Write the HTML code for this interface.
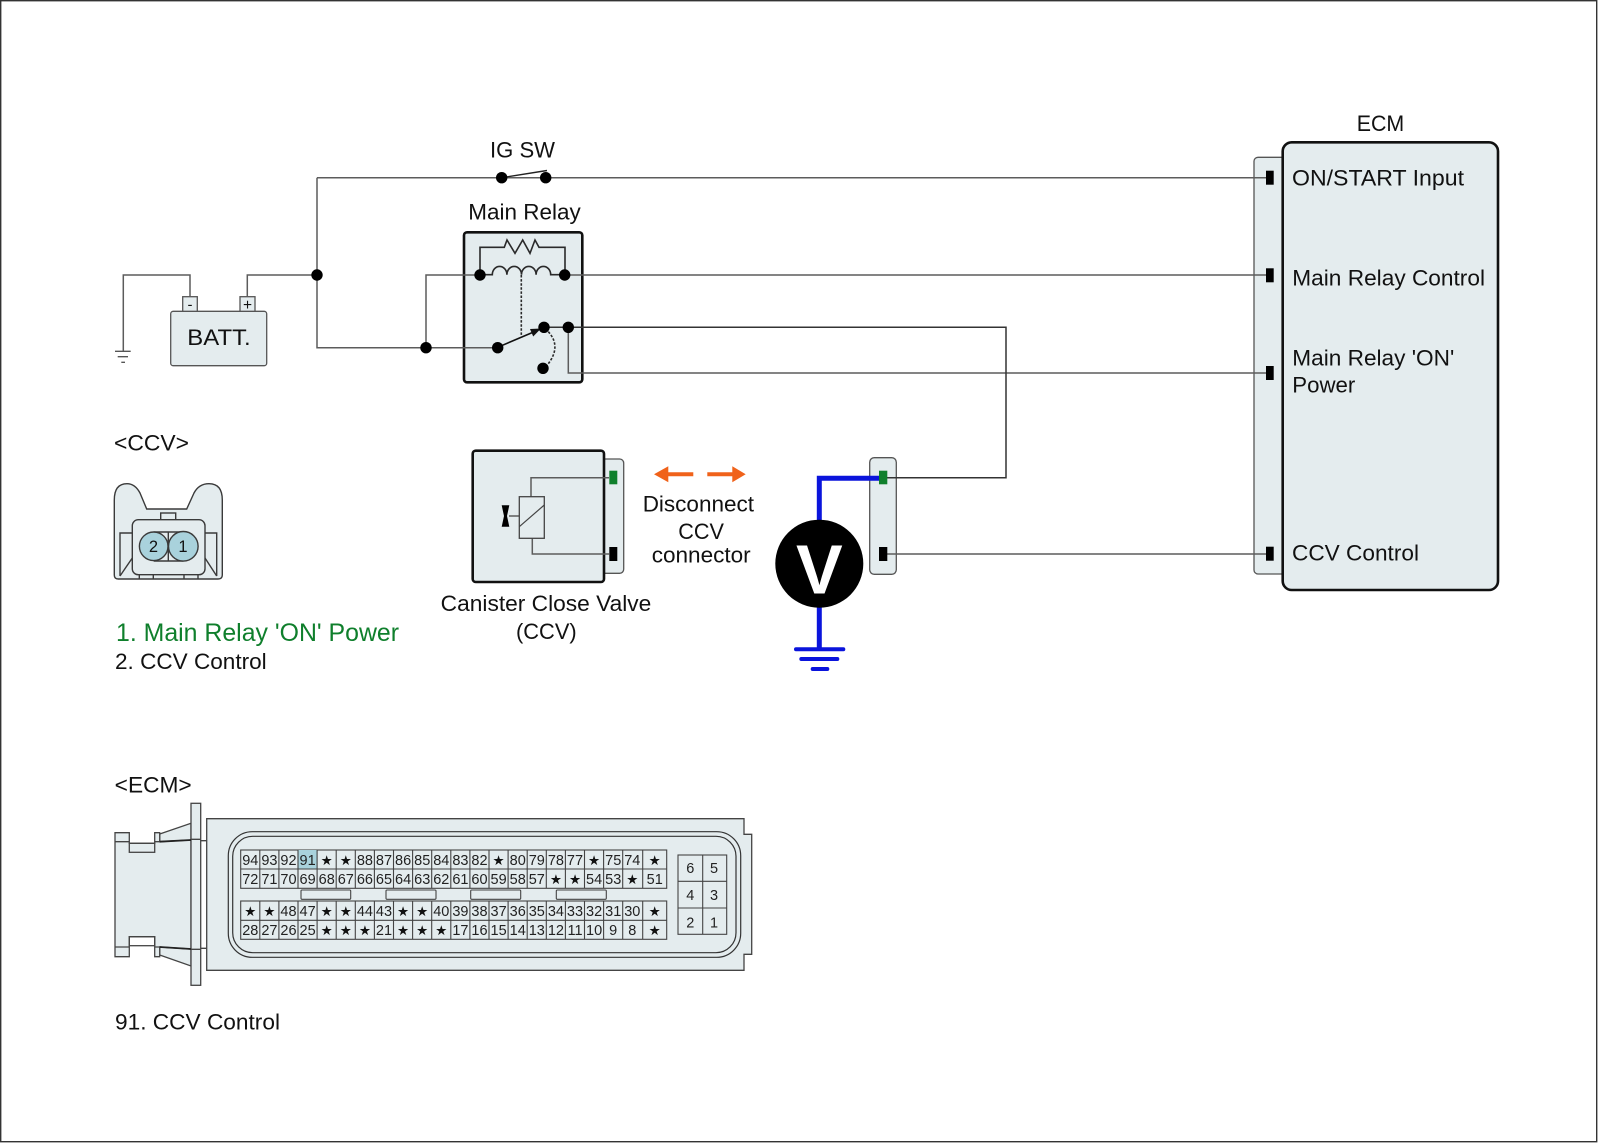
<!DOCTYPE html>
<html><head><meta charset="utf-8"><title>CCV circuit diagram</title>
<style>
html,body{margin:0;padding:0;background:#fff;width:1600px;height:1143px;overflow:hidden}
svg{display:block}
text{font-family:"Liberation Sans",sans-serif;fill:#111}
.l{font-size:22.5px}
.n{font-size:14.5px;text-anchor:middle;fill:#222}
.s{font-family:"DejaVu Sans",sans-serif;font-size:13.5px;text-anchor:middle;fill:#111}
</style></head><body>
<svg width="1600" height="1143" viewBox="0 0 1600 1143" xmlns="http://www.w3.org/2000/svg">
<rect x="0.7" y="0.7" width="1596" height="1141" fill="#fff" stroke="#333" stroke-width="1.4"/>

<!-- Connector & box fills -->
<g fill="#e4ecee" stroke="#555" stroke-width="1.3">
<rect x="170.7" y="311.3" width="96" height="54.4" rx="2.5"/>
<rect x="182.7" y="296.7" width="14.6" height="14.6"/>
<rect x="240" y="296.7" width="15" height="14.6"/>
<rect x="1254" y="157.3" width="40" height="416.7" rx="4"/>
<rect x="590" y="459" width="33.7" height="114.3" rx="4"/>
<rect x="869.7" y="457.7" width="26.6" height="116.6" rx="4.5"/>
</g>
<g fill="#e4ecee" stroke="#111" stroke-width="2.6">
<rect x="464" y="232.3" width="118.3" height="150" rx="3"/>
<rect x="1282.7" y="142.3" width="215.3" height="447.7" rx="9"/>
<rect x="472.7" y="450.7" width="131.3" height="131.3" rx="3"/>
</g>

<!-- Wires -->
<g fill="none" stroke="#5c5c5c" stroke-width="1.5">
<path d="M317 177.7H1266M317 177.7V347.7H497.7"/>
<path d="M247.3 296.7V275H317"/>
<path d="M190 296.7V275H123.3V351"/>
<path d="M426 347.7V275H480M564.7 275H1266"/>
<path d="M568.3 327.3V373H1266"/>
<path d="M887 554H1266"/>
<path d="M887 477.7H1006V327.3H544" stroke="#333"/>
<path d="M609 477.7H531V496.7M532.3 538.3V554H609"/>
<path d="M519.3 516H509"/>
</g>
<g stroke="#555" stroke-width="1.4" fill="none"><path d="M115 351.3H130.7M117.7 356.7H128M121.3 362.3H125"/></g>

<!-- Battery labels -->
<text x="190" y="309.5" style="font-size:15px;text-anchor:middle">-</text>
<text x="247.5" y="310" style="font-size:15.5px;text-anchor:middle">+</text>
<text x="187.3" y="345" style="font-size:22.5px" textLength="63.4" lengthAdjust="spacingAndGlyphs">BATT.</text>

<!-- IG switch -->
<path d="M501.7 177.7L547 170.5" stroke="#222" stroke-width="1.4" fill="none"/>

<!-- Relay internals -->
<g fill="none" stroke="#2a2a2a" stroke-width="1.6">
<path d="M480 275V247.3H504.3L507 240L515 253.3L522.7 240L530 253.3L535 240L539 247.3H565V275"/>
<path d="M480 274.7H492.3A7.3 8.3 0 0 1 506.9 274.7A7.3 8.3 0 0 1 521.5 274.7A7.3 8.3 0 0 1 536.1 274.7A7.3 8.3 0 0 1 550.7 274.7H565"/>
<path d="M521.3 275V336.7" stroke-dasharray="2.5 1.6"/>
<path d="M548.3 331.7Q562 346.7 547.3 365" stroke-dasharray="2.5 1.6"/>
<path d="M497.7 347.3L536 331" stroke="#111"/>
</g>
<path d="M541 328.5L530 329L533.2 336.5Z" fill="#111"/>

<!-- Dots -->
<g fill="#000">
<circle cx="501.7" cy="177.7" r="5.7"/><circle cx="545.7" cy="177.7" r="5.7"/>
<circle cx="317" cy="275" r="5.7"/><circle cx="426" cy="347.7" r="5.7"/>
<circle cx="480" cy="275" r="5.7"/><circle cx="564.7" cy="275" r="5.7"/>
<circle cx="497.7" cy="347.7" r="5.7"/><circle cx="544" cy="327.3" r="5.7"/>
<circle cx="568.3" cy="327.3" r="5.7"/><circle cx="543" cy="368.3" r="5.7"/>
</g>

<!-- Pins -->
<g fill="#000">
<rect x="1266" y="170.7" width="7.7" height="14"/><rect x="1266" y="268.3" width="7.7" height="14"/>
<rect x="1266" y="366" width="7.7" height="14"/><rect x="1266" y="546.7" width="7.7" height="14"/>
<rect x="609.3" y="547" width="8" height="14"/><rect x="879" y="547" width="8.3" height="14"/>
</g>
<rect x="609.3" y="470.7" width="8" height="13.6" fill="#0f7f2c"/>

<!-- CCV valve -->
<rect x="519.3" y="496.7" width="25" height="41.6" fill="#e4ecee" stroke="#444" stroke-width="1.3"/>
<path d="M519.3 526.7L544.3 505" stroke="#444" stroke-width="1.2"/>
<path d="M501.7 505.3H509.3L507 516L509.3 526.7H501.7L504 516Z" fill="#000"/>

<!-- Orange arrows -->
<g fill="#f0621a">
<path d="M654 474.3L668.3 466.3V472.3H693.3V476.3H668.3V482.3Z"/>
<path d="M745.7 474.3L732.3 466.3V472.3H707.3V476.3H732.3V482.3Z"/>
</g>

<!-- Voltmeter -->
<g fill="none" stroke="#0a14dc" stroke-width="5">
<path d="M880 478.3H819.3V649.3"/>
<path d="M796 649.3H843.3" stroke-linecap="round" stroke-width="4"/>
<path d="M801.3 659H837.3" stroke-linecap="round" stroke-width="4"/>
<path d="M812.7 669H827.3" stroke-linecap="round" stroke-width="4"/>
</g>
<rect x="879" y="470.7" width="8.3" height="13.6" fill="#0f7f2c"/>
<circle cx="819.3" cy="563.7" r="44" fill="#000"/>
<text x="819.3" y="593.3" style="font-size:70px;font-weight:bold;fill:#fff;text-anchor:middle">V</text>

<!-- Labels -->
<text class="l" x="490" y="157.5" textLength="65" lengthAdjust="spacingAndGlyphs">IG SW</text>
<text class="l" x="468.3" y="219.3" textLength="112.4" lengthAdjust="spacingAndGlyphs">Main Relay</text>
<text class="l" x="1356.7" y="131" textLength="47.5" lengthAdjust="spacingAndGlyphs">ECM</text>
<text class="l" x="1292" y="185.7" textLength="172" lengthAdjust="spacingAndGlyphs">ON/START Input</text>
<text class="l" x="1292.3" y="285.3" textLength="192.7" lengthAdjust="spacingAndGlyphs">Main Relay Control</text>
<text class="l" x="1292.3" y="365.7" textLength="162" lengthAdjust="spacingAndGlyphs">Main Relay 'ON'</text>
<text class="l" x="1292.3" y="392.7" textLength="63" lengthAdjust="spacingAndGlyphs">Power</text>
<text class="l" x="1292" y="560.7" textLength="127" lengthAdjust="spacingAndGlyphs">CCV Control</text>
<text class="l" x="642.7" y="511.7" textLength="111.3" lengthAdjust="spacingAndGlyphs">Disconnect</text>
<text class="l" x="678.3" y="539" textLength="45.7" lengthAdjust="spacingAndGlyphs">CCV</text>
<text class="l" x="651.7" y="562.3" textLength="99" lengthAdjust="spacingAndGlyphs">connector</text>
<text class="l" x="440.7" y="611" textLength="210.6" lengthAdjust="spacingAndGlyphs">Canister Close Valve</text>
<text class="l" x="516" y="639" textLength="60.7" lengthAdjust="spacingAndGlyphs">(CCV)</text>
<text class="l" x="114" y="450.7" textLength="75" lengthAdjust="spacingAndGlyphs">&lt;CCV&gt;</text>
<text class="l" x="114.7" y="792.3" textLength="77" lengthAdjust="spacingAndGlyphs">&lt;ECM&gt;</text>
<text x="116" y="641" style="font-size:24.8px;fill:#0f7f2c" textLength="283" lengthAdjust="spacingAndGlyphs">1. Main Relay 'ON' Power</text>
<text class="l" x="115" y="669" textLength="151.7" lengthAdjust="spacingAndGlyphs">2. CCV Control</text>
<text class="l" x="115" y="1029.3" textLength="165" lengthAdjust="spacingAndGlyphs">91. CCV Control</text>

<!-- CCV connector -->
<g stroke="#3a3a3a" stroke-width="1.4">
<path d="M114.3 575V500Q114.3 483.7 127 483.7Q135 483.7 140 493L146.7 509H186.7L194 493Q199 483.7 209 483.7Q222.3 483.7 222.3 500V575Q222.3 579 218 579H118.3Q114.3 579 114.3 575Z" fill="#e4ecee"/>
<path d="M120 576V533H132.3M205 533H216.7V576M120 576L132.3 558M216.7 576L205 558" fill="none"/>
<rect x="160.7" y="513" width="15" height="6.7" fill="#e4ecee"/>
<rect x="132.3" y="519.7" width="72.7" height="55" rx="6" fill="#e4ecee"/>
<path d="M139.3 574.7V579M153.3 574.7V579M184 574.7V579M198 574.7V579" fill="none"/>
<path d="M153.7 532H183.3M153.7 561H183.3" fill="none"/>
<circle cx="153.7" cy="546.3" r="14.3" fill="#a9d2dc"/>
<circle cx="183.3" cy="546.3" r="14.8" fill="#a9d2dc"/>
<path d="M168.3 531.7V561" fill="none"/>
</g>
<text x="153.5" y="552" style="font-size:16.5px;text-anchor:middle">2</text>
<text x="183" y="552" style="font-size:16.5px;text-anchor:middle">1</text>

<!-- ECM connector body -->
<g stroke="#444" stroke-width="1.3" fill="#e4ecee">
<path d="M206.7 818.7H744V834.3H751.7V954.3H744V970.3H206.7Z"/>
<path d="M159.7 834L191 823.3V840L159.7 841.7ZM159.7 955L191 966V949L159.7 947Z"/>
<path d="M115 832.7H129.3V843.3H154.7V832.7H159.7V841.7L191 840V949L159.7 947V956.7H154.7V945.7V936.7H129.3V947V956.7H115Z"/>
<rect x="129.3" y="843.3" width="25.4" height="9" fill="none"/>
<rect x="129.3" y="936.7" width="25.4" height="9" fill="none"/>
<rect x="191" y="803.3" width="9.7" height="182"/>
<path d="M115 841.7H129.3M154.7 841.7H159.7M115 947H129.3M154.7 947H159.7M191 839.3H200.7M191 949.3H200.7M200.7 840.7H206.7M200.7 948.3H206.7" fill="none"/>
<path d="M159.7 841.7L191 840M159.7 947L191 949" fill="none" stroke="#222" stroke-width="1.8"/>
</g>
<g fill="none" stroke="#333" stroke-width="1.2">
<rect x="228.3" y="831.7" width="512.4" height="125.6" rx="24"/>
<rect x="232.7" y="836.3" width="503.3" height="116.4" rx="20"/>
</g>

<!-- ECM grids -->
<rect x="240.7" y="850" width="426" height="38.3" fill="#e4ecee" stroke="#444" stroke-width="1.1"/>
<rect x="240.7" y="901" width="426" height="38.3" fill="#e4ecee" stroke="#444" stroke-width="1.1"/>
<rect x="298" y="850" width="19.1" height="19" fill="#a9d2dc"/>
<path fill="none" stroke="#444" stroke-width="1.1" d="M240.7 869H666.7M240.7 920.3H666.7M259.8 850V888.3M278.9 850V888.3M298 850V888.3M317.1 850V888.3M336.2 850V888.3M355.3 850V888.3M374.4 850V888.3M393.5 850V888.3M412.6 850V888.3M431.7 850V888.3M450.8 850V888.3M469.9 850V888.3M489 850V888.3M508.1 850V888.3M527.2 850V888.3M546.3 850V888.3M565.4 850V888.3M584.5 850V888.3M603.6 850V888.3M622.7 850V888.3M642.7 850V888.3M259.8 901V939.3M278.9 901V939.3M298 901V939.3M317.1 901V939.3M336.2 901V939.3M355.3 901V939.3M374.4 901V939.3M393.5 901V939.3M412.6 901V939.3M431.7 901V939.3M450.8 901V939.3M469.9 901V939.3M489 901V939.3M508.1 901V939.3M527.2 901V939.3M546.3 901V939.3M565.4 901V939.3M584.5 901V939.3M603.6 901V939.3M622.7 901V939.3M642.7 901V939.3"/>
<g fill="#e4ecee" stroke="#444" stroke-width="1.1">
<rect x="301" y="890" width="49.7" height="9.3" rx="1"/>
<rect x="386" y="890" width="50" height="9.3" rx="1"/>
<rect x="470.7" y="890" width="50" height="9.3" rx="1"/>
<rect x="556.3" y="890" width="50" height="9.3" rx="1"/>
<rect x="678" y="855" width="48.7" height="79.3"/>
</g>
<path d="M702.7 855V934.3M678 881.3H726.7M678 908H726.7" fill="none" stroke="#444" stroke-width="1.1"/>

<!-- Row 1 -->
<text class="n" y="865"><tspan x="250.3">94</tspan><tspan x="269.4">93</tspan><tspan x="288.5">92</tspan><tspan x="307.6">91</tspan><tspan x="364.9">88</tspan><tspan x="384">87</tspan><tspan x="403.1">86</tspan><tspan x="422.2">85</tspan><tspan x="441.3">84</tspan><tspan x="460.4">83</tspan><tspan x="479.5">82</tspan><tspan x="517.7">80</tspan><tspan x="536.8">79</tspan><tspan x="555.9">78</tspan><tspan x="575">77</tspan><tspan x="613.2">75</tspan><tspan x="632.3">74</tspan></text>
<text class="s" y="865"><tspan x="326.7">★</tspan><tspan x="345.8">★</tspan><tspan x="498.6">★</tspan><tspan x="594.1">★</tspan><tspan x="654.7">★</tspan></text>
<!-- Row 2 -->
<text class="n" y="884"><tspan x="250.3">72</tspan><tspan x="269.4">71</tspan><tspan x="288.5">70</tspan><tspan x="307.6">69</tspan><tspan x="326.7">68</tspan><tspan x="345.8">67</tspan><tspan x="364.9">66</tspan><tspan x="384">65</tspan><tspan x="403.1">64</tspan><tspan x="422.2">63</tspan><tspan x="441.3">62</tspan><tspan x="460.4">61</tspan><tspan x="479.5">60</tspan><tspan x="498.6">59</tspan><tspan x="517.7">58</tspan><tspan x="536.8">57</tspan><tspan x="594.1">54</tspan><tspan x="613.2">53</tspan><tspan x="654.7">51</tspan></text>
<text class="s" y="884"><tspan x="555.9">★</tspan><tspan x="575">★</tspan><tspan x="632.3">★</tspan></text>
<!-- Row 3 -->
<text class="n" y="916"><tspan x="288.5">48</tspan><tspan x="307.6">47</tspan><tspan x="364.9">44</tspan><tspan x="384">43</tspan><tspan x="441.3">40</tspan><tspan x="460.4">39</tspan><tspan x="479.5">38</tspan><tspan x="498.6">37</tspan><tspan x="517.7">36</tspan><tspan x="536.8">35</tspan><tspan x="555.9">34</tspan><tspan x="575">33</tspan><tspan x="594.1">32</tspan><tspan x="613.2">31</tspan><tspan x="632.3">30</tspan></text>
<text class="s" y="916"><tspan x="250.3">★</tspan><tspan x="269.4">★</tspan><tspan x="326.7">★</tspan><tspan x="345.8">★</tspan><tspan x="403.1">★</tspan><tspan x="422.2">★</tspan><tspan x="654.7">★</tspan></text>
<!-- Row 4 -->
<text class="n" y="935"><tspan x="250.3">28</tspan><tspan x="269.4">27</tspan><tspan x="288.5">26</tspan><tspan x="307.6">25</tspan><tspan x="384">21</tspan><tspan x="460.4">17</tspan><tspan x="479.5">16</tspan><tspan x="498.6">15</tspan><tspan x="517.7">14</tspan><tspan x="536.8">13</tspan><tspan x="555.9">12</tspan><tspan x="575">11</tspan><tspan x="594.1">10</tspan><tspan x="613.2">9</tspan><tspan x="632.3">8</tspan></text>
<text class="s" y="935"><tspan x="326.7">★</tspan><tspan x="345.8">★</tspan><tspan x="364.9">★</tspan><tspan x="403.1">★</tspan><tspan x="422.2">★</tspan><tspan x="441.3">★</tspan><tspan x="654.7">★</tspan></text>
<!-- Right grid -->
<text class="n" y="873"><tspan x="690.3">6</tspan><tspan x="714">5</tspan></text>
<text class="n" y="900"><tspan x="690.3">4</tspan><tspan x="714">3</tspan></text>
<text class="n" y="927.5"><tspan x="690.3">2</tspan><tspan x="714">1</tspan></text>
</svg>
</body></html>
